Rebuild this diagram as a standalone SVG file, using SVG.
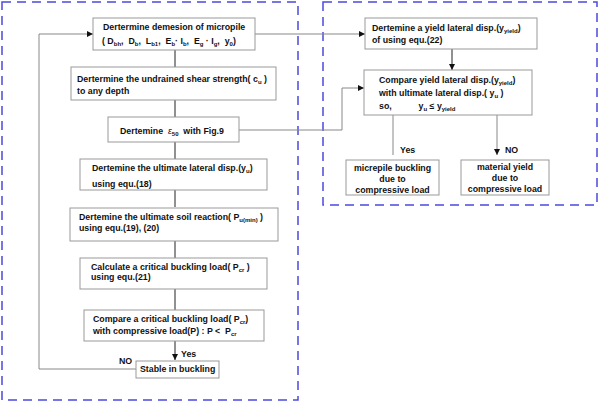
<svg xmlns="http://www.w3.org/2000/svg" width="600" height="403" viewBox="0 0 600 403">
<style>
.b{fill:#fff;stroke:#999;stroke-width:1}
.d{fill:none;stroke:#4a4ae0;stroke-width:1.5;stroke-dasharray:9,6}
.c{fill:none;stroke:#888;stroke-width:1}
.a{fill:none;stroke:#222;stroke-width:1}
text{font-family:"Liberation Sans",Arial,sans-serif;font-size:8.8px;font-weight:bold;fill:#111}
.s{font-size:6px}
</style>
<defs><marker id="m" markerWidth="6" markerHeight="6" refX="6" refY="3" orient="auto" markerUnits="userSpaceOnUse"><path d="M0,0L6,3L0,6z" fill="#111"/></marker></defs>
<rect class="d" x="2" y="2" width="296" height="398"/>
<rect class="d" x="323" y="2" width="274" height="203"/>
<g id="connectors">
<path class="a" marker-end="url(#m)" d="M175,50V67M175,100V117M175,142V159M175,190V207M175,241V258M175,289V310M175,341V360"/>
<path class="c" marker-end="url(#m)" d="M136,369H39V34H93"/>
<path class="c" marker-end="url(#m)" d="M255,34H365"/>
<path class="c" marker-end="url(#m)" d="M239,130H342V88H364"/>
<path class="a" marker-end="url(#m)" d="M452,49V70"/>
<path class="c" marker-end="url(#m)" d="M393,115V155M497,115V155"/>
</g>
<g id="n1"><rect class="b" x="93" y="18" width="162" height="32"/><text x="103" y="30">Dertermine demesion of micropile</text><text x="102" y="44" xml:space="preserve">( D<tspan class="s" dy="2">bh</tspan><tspan dy="-2">,  D</tspan><tspan class="s" dy="2">b</tspan><tspan dy="-2">,  L</tspan><tspan class="s" dy="2">b1</tspan><tspan dy="-2">,  E</tspan><tspan class="s" dy="2">b</tspan><tspan dy="-2">· I</tspan><tspan class="s" dy="2">b</tspan><tspan dy="-2">,  E</tspan><tspan class="s" dy="2">g</tspan><tspan dy="-2"> · I</tspan><tspan class="s" dy="2">g</tspan><tspan dy="-2">,  y</tspan><tspan class="s" dy="2">0</tspan><tspan dy="-2">)</tspan></text></g>
<g id="n2"><rect class="b" x="71" y="67" width="205" height="33"/><text x="77" y="82">Dertermine the undrained shear strength( c<tspan class="s" dy="2">u</tspan><tspan dy="-2"> )</tspan></text><text x="77" y="94">to any depth</text></g>
<g id="n3"><rect class="b" x="108" y="117" width="131" height="25"/><text x="120" y="134" xml:space="preserve">Dertemine  <tspan font-style="italic" font-weight="normal">ε</tspan><tspan class="s" dy="2">50</tspan><tspan dy="-2">  with Fig.9</tspan></text></g>
<g id="n4"><rect class="b" x="80" y="159" width="187" height="31"/><text x="92" y="171">Dertemine the ultimate lateral disp.(y<tspan class="s" dy="2">u</tspan><tspan dy="-2">)</tspan></text><text x="92" y="187">using equ.(18)</text></g>
<g id="n5"><rect class="b" x="70" y="208" width="208" height="33"/><text x="79" y="220">Dertemine the ultimate soil reaction( P<tspan class="s" dy="2">u(min)</tspan><tspan dy="-2"> )</tspan></text><text x="79" y="231">using equ.(19), (20)</text></g>
<g id="n6"><rect class="b" x="80" y="258" width="187" height="31"/><text x="91" y="270">Calculate a critical buckling load( P<tspan class="s" dy="2">cr</tspan><tspan dy="-2"> )</tspan></text><text x="91" y="280">using equ.(21)</text></g>
<g id="n7"><rect class="b" x="84" y="310" width="180" height="31"/><text x="93" y="322">Compare a critical buckling load( P<tspan class="s" dy="2">cr</tspan><tspan dy="-2">)</tspan></text><text x="93" y="334" xml:space="preserve">with compressive load(P) : P &lt;  P<tspan class="s" dy="2">cr</tspan></text></g>
<text x="181" y="357">Yes</text><text x="119" y="364">NO</text>
<g id="n8"><rect class="b" x="136" y="361" width="83" height="17"/><text x="140" y="372">Stable in buckling</text></g>
<g id="r1"><rect class="b" x="365" y="18" width="172" height="31"/><text x="372" y="31">Dertemine a yield lateral disp.(y<tspan class="s" dy="2">yield</tspan><tspan dy="-2">)</tspan></text><text x="372" y="43">of using equ.(22)</text></g>
<g id="r2"><rect class="b" x="364" y="70" width="168" height="45"/><text x="379" y="83">Compare yield lateral disp.(y<tspan class="s" dy="2">yield</tspan><tspan dy="-2">)</tspan></text><text x="379" y="96" xml:space="preserve">with ultimate lateral disp.( y<tspan class="s" dy="2">u</tspan><tspan dy="-2"> )</tspan></text><text x="379" y="109" xml:space="preserve">so,           y<tspan class="s" dy="2">u</tspan><tspan dy="-2"> ≤ y</tspan><tspan class="s" dy="2">yield</tspan></text></g>
<text x="400" y="153">Yes</text><text x="505" y="153">NO</text>
<g id="r3"><rect class="b" x="346" y="160" width="93" height="35"/><text x="392.5" y="171" text-anchor="middle">micrepile buckling</text><text x="392.5" y="182" text-anchor="middle">due to</text><text x="392.5" y="193" text-anchor="middle">compressive load</text></g>
<g id="r4"><rect class="b" x="461" y="160" width="88" height="35"/><text x="505" y="170" text-anchor="middle">material yield</text><text x="505" y="181" text-anchor="middle">due to</text><text x="505" y="192" text-anchor="middle">compressive load</text></g>
</svg>
